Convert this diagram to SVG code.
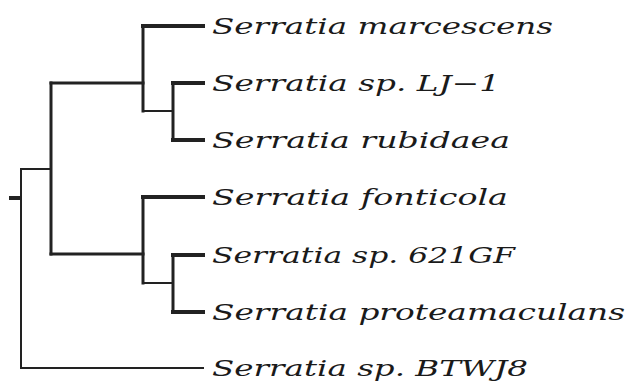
<svg xmlns="http://www.w3.org/2000/svg" width="630" height="386" viewBox="0 0 630 386">
<style>
.lbl{font-family:"DejaVu Serif","Liberation Serif",serif;font-style:italic;font-size:22px;fill:#1a1a1a}
.br{stroke:#222;fill:none;stroke-linecap:square}
.leaf{stroke-width:4}
.mid{stroke-width:3}
.thin{stroke-width:2}
</style>
<rect width="630" height="386" fill="#fff"/>
<g id="connectors">
<path class="br leaf" d="M11 198H20"/>
<path class="br thin" d="M21 169V368H203"/>
<path class="br thin" d="M21 169H51"/>
<path class="br mid" d="M51 83V254"/>
<path class="br mid" d="M51 83H143"/>
<path class="br mid" d="M51 254H143"/>
<path class="br mid" d="M143 26V111"/>
<path class="br thin" d="M143 111H173"/>
<path class="br mid" d="M173 83V140"/>
<path class="br mid" d="M143 197V283"/>
<path class="br thin" d="M143 283H173"/>
<path class="br mid" d="M173 255V312"/>
<path class="br leaf" d="M143 26H203"/>
<path class="br leaf" d="M173 83H203"/>
<path class="br leaf" d="M173 140H203"/>
<path class="br leaf" d="M143 197H203"/>
<path class="br leaf" d="M173 255H203"/>
<path class="br leaf" d="M173 312H203"/>
</g>
<g id="leaf-marcescens"><text class="lbl" x="212" y="34" textLength="341" lengthAdjust="spacingAndGlyphs">Serratia marcescens</text></g>
<g id="leaf-lj1"><text class="lbl" x="212" y="91" textLength="288" lengthAdjust="spacingAndGlyphs">Serratia sp. LJ−1</text></g>
<g id="leaf-rubidaea"><text class="lbl" x="212" y="148" textLength="298" lengthAdjust="spacingAndGlyphs">Serratia rubidaea</text></g>
<g id="leaf-fonticola"><text class="lbl" x="212" y="205" textLength="296" lengthAdjust="spacingAndGlyphs">Serratia fonticola</text></g>
<g id="leaf-621gf"><text class="lbl" x="212" y="263" textLength="303" lengthAdjust="spacingAndGlyphs">Serratia sp. 621GF</text></g>
<g id="leaf-proteamaculans"><text class="lbl" x="212" y="320" textLength="413" lengthAdjust="spacingAndGlyphs">Serratia proteamaculans</text></g>
<g id="leaf-btwj8"><text class="lbl" x="212" y="376" textLength="316" lengthAdjust="spacingAndGlyphs">Serratia sp. BTWJ8</text></g>
</svg>
